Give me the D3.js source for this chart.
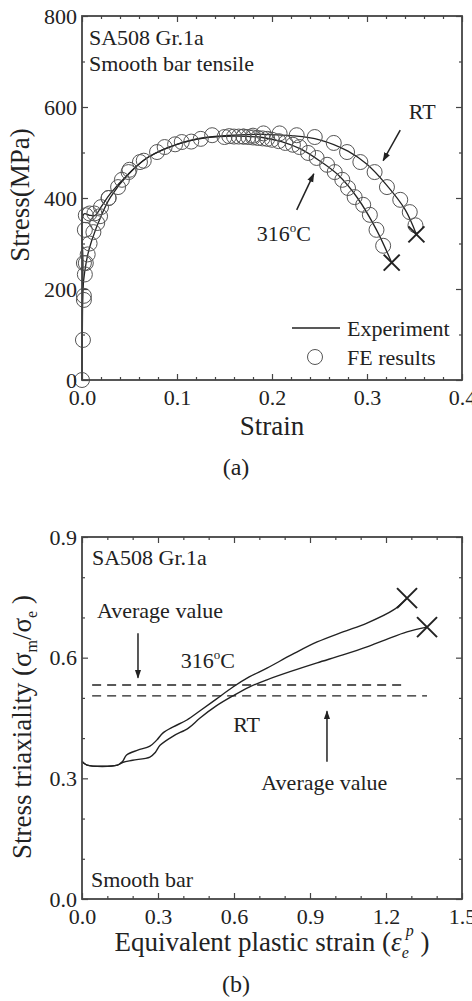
<!DOCTYPE html>
<html>
<head>
<meta charset="utf-8">
<script src="https://cdn.jsdelivr.net/npm/d3@7"></script>
<style>
    body { margin: 0; background: #fff; }
    svg text { font-family: "Liberation Serif", "Times New Roman", serif; fill: #222; }
</style>
</head>
<body>
<svg id="chart" width="472" height="1001"></svg>
<script>
// ---- (a) stress-strain data ----
var expRT = [[0,0],[0.001,250],[0.002,365],[0.008,362],[0.014,362],[0.02,380],[0.03,410],[0.05,455],[0.07,490],
    [0.1,518],[0.13,533],[0.16,538],[0.19,540],[0.22,537],[0.25,528],[0.28,503],[0.30,474],[0.32,430],[0.34,375],[0.352,320]];
var exp316 = [[0,0],[0.001,200],[0.003,240],[0.006,275],[0.01,305],[0.02,360],[0.03,402],[0.05,455],[0.07,490],
    [0.1,518],[0.13,532],[0.16,536],[0.19,533],[0.21,524],[0.23,508],[0.25,482],[0.27,450],[0.29,400],[0.31,330],[0.326,258]];
var feRT = [[0,0],[0.001,88],[0.002,176],[0.002,257],[0.003,330],[0.004,362],[0.008,366],[0.013,366],[0.02,380],
    [0.028,400],[0.038,424],[0.049,457],[0.061,479],[0.079,501],[0.098,518],[0.115,524],[0.137,538],[0.155,536],
    [0.17,535],[0.18,537],[0.191,542],[0.208,542],[0.226,538],[0.245,534],[0.265,521],[0.279,501],[0.293,479],
    [0.308,457],[0.321,424],[0.335,396],[0.345,369],[0.351,340]];
var fe316 = [[0.002,185],[0.003,232],[0.004,257],[0.006,276],[0.008,300],[0.012,325],[0.016,345],[0.019,360],
    [0.028,400],[0.042,440],[0.05,462],[0.065,482],[0.087,512],[0.105,523],[0.125,530],[0.15,534],[0.16,535],
    [0.165,535],[0.17,535],[0.175,534],[0.18,533],[0.185,532],[0.19,531],[0.195,530],[0.2,528],[0.207,525],
    [0.214,521],[0.222,517],[0.229,512],[0.238,499],[0.247,488],[0.258,473],[0.266,457],[0.274,440],[0.28,422],
    [0.287,402],[0.296,385],[0.303,363],[0.31,330],[0.317,295]];
var failA = [[0.352,320],[0.326,258]];
var xTicksA = [0, 0.1, 0.2, 0.3, 0.4];
var yTicksA = [0, 200, 400, 600, 800];

// ---- (b) triaxiality data ----
var tri316 = [[0,0.342],[0.02,0.333],[0.14,0.333],[0.16,0.342],[0.176,0.358],[0.22,0.37],[0.268,0.38],[0.295,0.395],
    [0.32,0.413],[0.36,0.428],[0.414,0.445],[0.466,0.468],[0.53,0.497],[0.596,0.527],[0.66,0.552],[0.73,0.574],
    [0.83,0.608],[0.928,0.639],[1.03,0.664],[1.125,0.686],[1.228,0.718],[1.283,0.748]];
var triRT = [[0,0.342],[0.02,0.333],[0.14,0.333],[0.162,0.34],[0.2,0.345],[0.268,0.353],[0.29,0.365],[0.308,0.382],
    [0.36,0.405],[0.42,0.425],[0.466,0.45],[0.53,0.48],[0.596,0.505],[0.66,0.527],[0.73,0.545],[0.83,0.567],
    [0.928,0.587],[1.03,0.607],[1.125,0.627],[1.2,0.645],[1.283,0.664],[1.362,0.676]];
var avg316 = 0.532, avgRT = 0.505;
var failB = [[1.283,0.748],[1.362,0.676]];
var xTicksB = [0, 0.3, 0.6, 0.9, 1.2, 1.5];
var yTicksB = [0, 0.3, 0.6, 0.9];

var svg = d3.select('#chart');
svg.append('defs').append('marker')
    .attr('id', 'arr').attr('viewBox', '0 0 10 10').attr('refX', 9).attr('refY', 5)
    .attr('markerWidth', 9).attr('markerHeight', 9).attr('orient', 'auto')
    .attr('markerUnits', 'userSpaceOnUse')
    .append('path').attr('d', 'M0,1.5 L10,5 L0,8.5 Z').attr('fill', '#222');

function frame(g, x, y, xMaj, xMin, yMaj, yMin, xFmt, yFmt) {
    var w = x.range()[1], h = y.range()[0];
    function style(sel) {
        sel.select('.domain').remove();
        sel.selectAll('line').attr('stroke', '#444').attr('stroke-width', 1.2);
        sel.selectAll('text').attr('font-size', 22).attr('fill', '#222');
    }
    g.append('g').attr('transform', 'translate(0,' + h + ')')
        .call(d3.axisBottom(x).tickValues(xMaj).tickSize(-6).tickPadding(9).tickFormat(xFmt)).call(style);
    g.append('g').attr('transform', 'translate(0,' + h + ')')
        .call(d3.axisBottom(x).tickValues(xMin).tickSize(-3).tickFormat('')).call(style);
    g.append('g').call(d3.axisTop(x).tickValues(xMaj).tickSize(-6).tickFormat('')).call(style);
    g.append('g').call(d3.axisTop(x).tickValues(xMin).tickSize(-3).tickFormat('')).call(style);
    g.append('g').call(d3.axisLeft(y).tickValues(yMaj).tickSize(-6).tickPadding(5).tickFormat(yFmt)).call(style);
    g.append('g').call(d3.axisLeft(y).tickValues(yMin).tickSize(-3).tickFormat('')).call(style);
    g.append('g').attr('transform', 'translate(' + w + ',0)')
        .call(d3.axisRight(x === null ? y : y).tickValues(yMaj).tickSize(-6).tickFormat('')).call(style);
    g.append('g').attr('transform', 'translate(' + w + ',0)')
        .call(d3.axisRight(y).tickValues(yMin).tickSize(-3).tickFormat('')).call(style);
    g.append('rect').attr('width', w).attr('height', h)
        .attr('fill', 'none').attr('stroke', '#444').attr('stroke-width', 1.8);
}

function cross(g, pts, x, y, s) {
    pts.forEach(function(p) {
        g.append('path')
            .attr('d', 'M' + (x(p[0]) - s) + ',' + (y(p[1]) - s) + 'L' + (x(p[0]) + s) + ',' + (y(p[1]) + s) +
                'M' + (x(p[0]) - s) + ',' + (y(p[1]) + s) + 'L' + (x(p[0]) + s) + ',' + (y(p[1]) - s))
            .attr('stroke', '#222').attr('stroke-width', 2).attr('fill', 'none');
    });
}

function arrow(g, x1, y1, x2, y2) {
    g.append('line').attr('x1', x1).attr('y1', y1).attr('x2', x2).attr('y2', y2)
        .attr('stroke', '#222').attr('stroke-width', 1.5).attr('marker-end', 'url(#arr)');
}

function label(g, x, y, txt, size, anchor) {
    return g.append('text').attr('x', x).attr('y', y).attr('font-size', size || 22)
        .attr('text-anchor', anchor || 'start').text(txt);
}

function degC(t) {
    t.append('tspan').attr('font-size', 13).attr('dy', -9).text('o');
    t.append('tspan').attr('dy', 9).text('C');
}

// ================= (a) =================
var wA = 380, hA = 364;
var gA = svg.append('g').attr('transform', 'translate(82,16)');
var xA = d3.scaleLinear().domain([0, 0.4]).range([0, wA]);
var yA = d3.scaleLinear().domain([0, 800]).range([hA, 0]);

var lineA = d3.line().x(function(d) { return xA(d[0]); }).y(function(d) { return yA(d[1]); })
    .curve(d3.curveCatmullRom.alpha(0.5));
[expRT, exp316].forEach(function(s) {
    gA.append('path').datum(s).attr('d', lineA).attr('fill', 'none').attr('stroke', '#222').attr('stroke-width', 1.3);
});
gA.selectAll('.fe').data(feRT.concat(fe316)).join('circle').attr('class', 'fe')
    .attr('cx', function(d) { return xA(d[0]); }).attr('cy', function(d) { return yA(d[1]); })
    .attr('r', 7.5).attr('fill', 'none').attr('stroke', '#555').attr('stroke-width', 1);
cross(gA, failA, xA, yA, 8);

frame(gA, xA, yA, xTicksA, d3.range(0.02, 0.4, 0.02).filter(function(v) { return Math.abs(v * 10 - Math.round(v * 10)) > 1e-6; }),
    yTicksA, [100, 300, 500, 700], d3.format('.1f'), d3.format('d'));

label(gA, 7, 29, 'SA508 Gr.1a');
label(gA, 7, 55, 'Smooth bar tensile');
label(gA, xA(0.344), yA(573), 'RT');
arrow(gA, xA(0.335), yA(549), xA(0.317), yA(482));
degC(label(gA, xA(0.184), yA(306), '316'));
arrow(gA, xA(0.226), yA(374), xA(0.244), yA(453));

// legend
gA.append('line').attr('x1', 210).attr('x2', 258).attr('y1', 312).attr('y2', 312)
    .attr('stroke', '#222').attr('stroke-width', 1.3);
label(gA, 265, 320, 'Experiment');
gA.append('circle').attr('cx', 233).attr('cy', 341).attr('r', 7.5).attr('fill', 'none').attr('stroke', '#555');
label(gA, 265, 349, 'FE results');

label(gA, wA / 2, 419, 'Strain', 27, 'middle');
label(svg, 20, 195, 'Stress(MPa)', 27, 'middle').attr('transform', 'rotate(-90,20,195)').attr('dy', '0.35em');
label(svg, 236, 475, '(a)', 24, 'middle');

// ================= (b) =================
var wB = 380, hB = 362;
var gB = svg.append('g').attr('transform', 'translate(82,537)');
var xB = d3.scaleLinear().domain([0, 1.5]).range([0, wB]);
var yB = d3.scaleLinear().domain([0, 0.9]).range([hB, 0]);

var lineB = d3.line().x(function(d) { return xB(d[0]); }).y(function(d) { return yB(d[1]); })
    .curve(d3.curveCatmullRom.alpha(0.5));
[tri316, triRT].forEach(function(s) {
    gB.append('path').datum(s).attr('d', lineB).attr('fill', 'none').attr('stroke', '#222').attr('stroke-width', 1.4);
});
gB.append('line').attr('x1', xB(0.04)).attr('x2', xB(1.283)).attr('y1', yB(avg316)).attr('y2', yB(avg316))
    .attr('stroke', '#222').attr('stroke-width', 1.3).attr('stroke-dasharray', '9,6');
gB.append('line').attr('x1', xB(0.04)).attr('x2', xB(1.362)).attr('y1', yB(avgRT)).attr('y2', yB(avgRT))
    .attr('stroke', '#222').attr('stroke-width', 1.3).attr('stroke-dasharray', '9,6');
cross(gB, failB, xB, yB, 10);

frame(gB, xB, yB, xTicksB, [0.1, 0.2, 0.4, 0.5, 0.7, 0.8, 1.0, 1.1, 1.3, 1.4], yTicksB,
    [0.1, 0.2, 0.4, 0.5, 0.7, 0.8], d3.format('.1f'), d3.format('.1f'));

label(gB, 10, 28, 'SA508 Gr.1a');
label(gB, 15, 81, 'Average value');
arrow(gB, xB(0.221), yB(0.661), xB(0.221), yB(0.55));
degC(label(gB, xB(0.39), yB(0.574), '316'));
label(gB, xB(0.597), yB(0.414), 'RT');
arrow(gB, xB(0.967), yB(0.341), xB(0.967), yB(0.467));
label(gB, xB(0.708), yB(0.27), 'Average value');
label(gB, 9, 350, 'Smooth bar');

var xt = label(gB, wB / 2, 414, 'Equivalent plastic strain (', 27, 'middle');
xt.append('tspan').attr('font-style', 'italic').text('\u03B5');
xt.append('tspan').attr('font-size', 16).attr('font-style', 'italic').attr('dy', 7).text('e');
xt.append('tspan').attr('font-size', 16).attr('font-style', 'italic').attr('dy', -22).attr('dx', -3).text('p');
xt.append('tspan').attr('dy', 15).text(' )');

var yt = label(svg, 22, 727, 'Stress triaxiality (\u03C3', 27, 'middle')
    .attr('transform', 'rotate(-90,22,727)').attr('dy', '0.35em');
yt.append('tspan').attr('font-size', 16).attr('dy', 6).text('m');
yt.append('tspan').attr('dy', -6).text('/\u03C3');
yt.append('tspan').attr('font-size', 16).attr('dy', 6).text('e');
yt.append('tspan').attr('dy', -6).text(' )');

label(svg, 236, 992, '(b)', 24, 'middle');
</script>
</body>
</html>
